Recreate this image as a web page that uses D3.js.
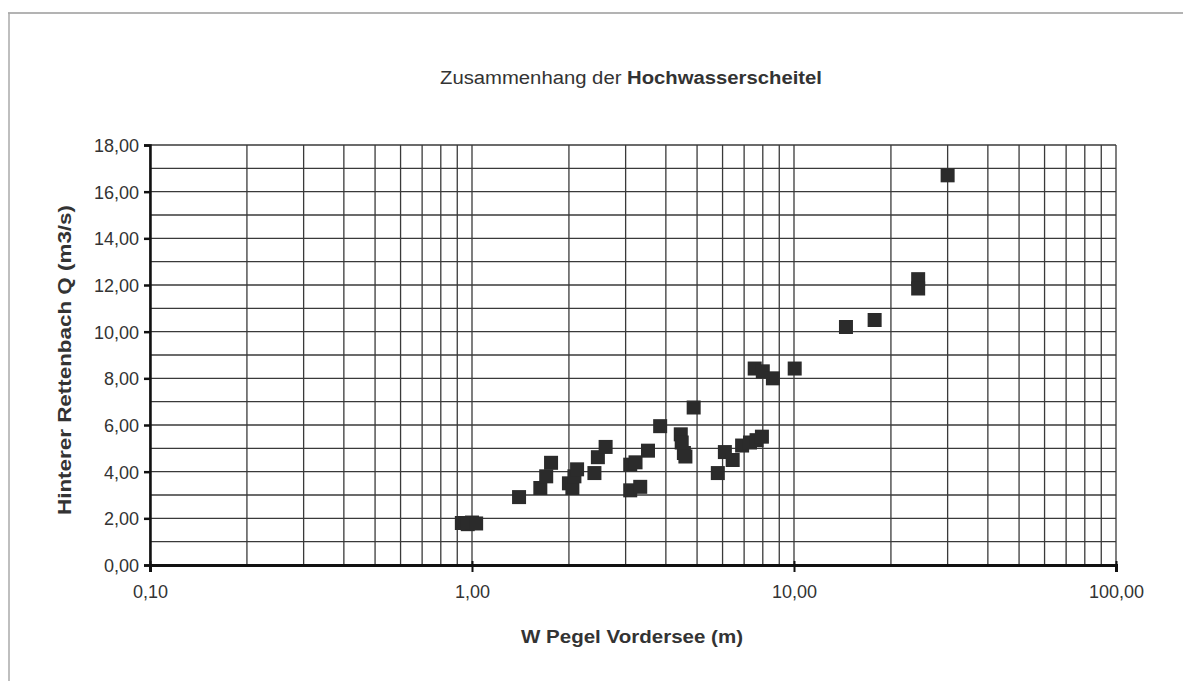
<!DOCTYPE html>
<html><head><meta charset="utf-8">
<script src="https://cdn.jsdelivr.net/npm/d3@7"></script>
<style>body{margin:0;background:#fff}svg{display:block}</style>
</head><body>
<svg id="c" width="1186" height="681"></svg>
<script>
const title = ["Zusammenhang der ", "Hochwasserscheitel"];
const xTitle = "W Pegel Vordersee (m)";
const yTitle = "Hinterer Rettenbach Q (m3/s)";
const xTickValues = [0.1, 1, 10, 100];
const xTickLabels = ["0,10", "1,00", "10,00", "100,00"];
const yTickValues = [0, 2, 4, 6, 8, 10, 12, 14, 16, 18];
const yTickLabels = ["0,00","2,00","4,00","6,00","8,00","10,00","12,00","14,00","16,00","18,00"];
const wPegel = [0.93,0.97,1.00,1.03,1.40,1.63,1.70,1.76,2.00,2.05,2.08,2.12,2.40,2.46,2.60,
  3.10,3.22,3.10,3.33,3.52,3.84,4.45,4.48,4.55,4.60,4.88,5.80,6.10,6.45,6.90,7.30,7.65,7.95,
  7.55,8.00,8.60,10.05,14.5,17.8,24.3,24.3,30.0];
const qRetten = [1.80,1.75,1.82,1.78,2.91,3.30,3.80,4.38,3.50,3.30,3.80,4.10,3.94,4.62,5.06,
  4.30,4.40,3.20,3.35,4.90,5.95,5.60,5.25,4.80,4.65,6.75,3.94,4.84,4.50,5.12,5.25,5.35,5.50,
  8.42,8.30,8.00,8.42,10.20,10.50,12.25,11.85,16.70];

const svg = d3.select("#c");
const L = 150, R = 1116, T = 145, B = 565;
const x = d3.scaleLog().domain([0.1, 100]).range([L, R]);
const y = d3.scaleLinear().domain([0, 18]).range([B, T]);
const font = "'Liberation Sans', Arial, sans-serif";

// outer frame (scan border)
svg.append("line").attr("x1", 8).attr("x2", 1183).attr("y1", 13).attr("y2", 13).attr("stroke", "#9a9a9a").attr("stroke-width", 1.5);
svg.append("line").attr("x1", 9).attr("x2", 9).attr("y1", 13).attr("y2", 681).attr("stroke", "#aaa").attr("stroke-width", 1.5);

// grid
const g = svg.append("g");
const xMinor = [];
for (let d = 0.1; d < 100; d *= 10) for (let k = 1; k <= 9; k++) xMinor.push(+(d * k).toPrecision(3));
xMinor.push(100);
g.selectAll("line.vx").data(xMinor).join("line")
  .attr("x1", d => x(d)).attr("x2", d => x(d)).attr("y1", T).attr("y2", B)
  .attr("stroke", "#3a3a3a").attr("stroke-width", 1.3);
const yMinor = d3.range(0, 19, 1);
g.selectAll("line.hy").data(yMinor).join("line")
  .attr("x1", L).attr("x2", R).attr("y1", d => y(d)).attr("y2", d => y(d))
  .attr("stroke", "#3a3a3a").attr("stroke-width", 1.3);

// axes
const xAxis = d3.axisBottom(x).tickValues(xTickValues).tickSize(7).tickFormat((d, i) => xTickLabels[i]);
const ax = svg.append("g").attr("transform", `translate(0,${B})`).call(xAxis);
ax.select(".domain").attr("stroke", "#111").attr("stroke-width", 3);
ax.selectAll(".tick line").attr("stroke", "#111").attr("stroke-width", 2).attr("y1", -4);
ax.selectAll("text").attr("font-family", font).attr("font-size", 18).attr("fill", "#333").attr("dy", "1.28em");

const yAxis = d3.axisLeft(y).tickValues(yTickValues).tickSize(6).tickFormat((d, i) => yTickLabels[i]);
const ay = svg.append("g").attr("transform", `translate(${L},0)`).call(yAxis);
ay.select(".domain").attr("stroke", "#111").attr("stroke-width", 2.5);
ay.selectAll(".tick line").attr("stroke", "#111").attr("stroke-width", 2.5);
ay.selectAll("text").attr("font-family", font).attr("font-size", 18).attr("fill", "#333").attr("x", -11).attr("dy", "0.36em");

// points
const pts = wPegel.map((w, i) => [w, qRetten[i]]);
const s = 14;
svg.append("g").selectAll("rect").data(pts).join("rect")
  .attr("x", d => x(d[0]) - s / 2).attr("y", d => y(d[1]) - s / 2)
  .attr("width", s).attr("height", s).attr("fill", "#2b2b2b");

// title
const t = svg.append("text").attr("x", 440).attr("y", 84).attr("font-family", font).attr("font-size", 18)
  .attr("fill", "#333").attr("textLength", 382).attr("lengthAdjust", "spacingAndGlyphs");
t.append("tspan").text(title[0]);
t.append("tspan").attr("font-weight", "bold").text(title[1]);

svg.append("text").attr("x", 632).attr("y", 643).attr("text-anchor", "middle").attr("font-family", font)
  .attr("font-size", 18).attr("font-weight", "bold").attr("fill", "#333")
  .attr("textLength", 222).attr("lengthAdjust", "spacingAndGlyphs").text(xTitle);

svg.append("text").attr("transform", "translate(71,360) rotate(-90)").attr("text-anchor", "middle")
  .attr("font-family", font).attr("font-size", 18).attr("font-weight", "bold").attr("fill", "#333")
  .attr("textLength", 310).attr("lengthAdjust", "spacingAndGlyphs").text(yTitle);
</script>
</body></html>
